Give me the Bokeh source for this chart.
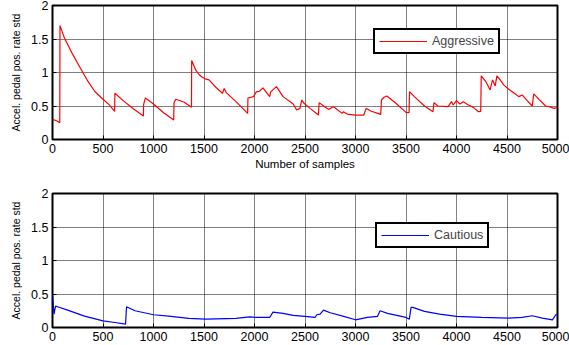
from bokeh.plotting import figure
from bokeh.models import Range1d, Legend, LegendItem, FixedTicker
from bokeh.layouts import column
from bokeh.embed import file_html
from bokeh.resources import INLINE

x_ticks = [0, 500, 1000, 1500, 2000, 2500, 3000, 3500, 4000, 4500, 5000]
y_ticks = [0, 0.5, 1, 1.5, 2]
y_tick_labels = ["0", "0.5", "1", "1.5", "2"]

agg_x = [0, 40, 72, 74, 117, 200, 267, 350, 417, 500, 560, 615, 618, 700, 800, 900, 902, 920,
         1000, 1100, 1200, 1203, 1220, 1300, 1376, 1378, 1417, 1450, 1483, 1520, 1550, 1617,
         1683, 1700, 1720, 1817, 1932, 1935, 1990, 2017, 2050, 2083, 2150, 2160, 2217, 2283,
         2383, 2417, 2450, 2468, 2490, 2550, 2633, 2640, 2700, 2733, 2783, 2867, 2880, 2917,
         3000, 3083, 3105, 3150, 3250, 3257, 3283, 3310, 3400, 3500, 3530, 3535, 3583, 3683,
         3767, 3777, 3817, 3917, 3950, 3967, 4000, 4033, 4067, 4117, 4167, 4217, 4240, 4245,
         4290, 4333, 4357, 4383, 4400, 4433, 4467, 4517, 4583, 4617, 4650, 4700, 4750, 4765,
         4817, 4883, 4917, 4967, 5000]
agg_y = [0.30, 0.28, 0.25, 1.70, 1.52, 1.27, 1.09, 0.87, 0.72, 0.60, 0.52, 0.42, 0.69, 0.58,
         0.46, 0.35, 0.52, 0.62, 0.53, 0.40, 0.29, 0.55, 0.60, 0.56, 0.48, 1.18, 1.04, 0.97,
         0.93, 0.90, 0.89, 0.78, 0.69, 0.76, 0.70, 0.565, 0.39, 0.62, 0.64, 0.71, 0.72, 0.77,
         0.64, 0.71, 0.79, 0.64, 0.53, 0.44, 0.465, 0.59, 0.54, 0.465, 0.365, 0.55, 0.48, 0.45,
         0.49, 0.39, 0.415, 0.38, 0.365, 0.365, 0.465, 0.425, 0.375, 0.59, 0.63, 0.65, 0.54,
         0.405, 0.40, 0.715, 0.64, 0.50, 0.415, 0.55, 0.50, 0.49, 0.565, 0.515, 0.58, 0.53,
         0.565, 0.515, 0.48, 0.415, 0.42, 0.95, 0.865, 0.74, 0.89, 0.80, 0.95, 0.89, 0.815,
         0.75, 0.68, 0.64, 0.665, 0.58, 0.50, 0.68, 0.60, 0.50, 0.49, 0.465, 0.48]

cau_x = [0, 15, 30, 50, 150, 317, 500, 617, 723, 733, 817, 1000, 1150, 1350, 1517, 1817, 1950,
         2017, 2150, 2183, 2283, 2383, 2500, 2600, 2617, 2650, 2683, 2750, 2883, 3000, 3117,
         3217, 3243, 3317, 3500, 3533, 3550, 3567, 3683, 3833, 4000, 4250, 4517, 4650, 4750,
         4850, 4950, 4983, 5000]
cau_y = [0.50, 0.20, 0.32, 0.31, 0.26, 0.17, 0.10, 0.075, 0.05, 0.31, 0.25, 0.19, 0.17, 0.135,
         0.125, 0.135, 0.16, 0.15, 0.15, 0.23, 0.21, 0.18, 0.165, 0.15, 0.19, 0.20, 0.26, 0.22,
         0.165, 0.115, 0.15, 0.165, 0.25, 0.21, 0.15, 0.125, 0.30, 0.30, 0.24, 0.20, 0.165,
         0.15, 0.14, 0.15, 0.175, 0.14, 0.115, 0.19, 0.19]

FONT = "Liberation Sans"


def make_fig(h, top, bottom, xs, ys, color, name, loc, xlabel):
    p = figure(width=569, height=h, output_backend="svg", toolbar_location=None,
               x_range=Range1d(0, 5000), y_range=Range1d(0, 2),
               min_border_left=52, min_border_right=12, min_border_top=top,
               min_border_bottom=bottom)
    p.background_fill_color = "white"
    p.border_fill_color = "white"
    p.outline_line_color = "black"
    p.outline_line_width = 2
    p.outline_line_alpha = 1
    r = p.line(xs, ys, line_color=color, line_width=1.2)
    p.xaxis.ticker = FixedTicker(ticks=x_ticks)
    p.yaxis.ticker = FixedTicker(ticks=y_ticks)
    p.yaxis.major_label_overrides = {t: l for t, l in zip(y_ticks, y_tick_labels)}
    for ax in (p.xaxis[0], p.yaxis[0]):
        ax.major_tick_in = 4
        ax.major_tick_out = 0
        ax.minor_tick_in = 0
        ax.minor_tick_out = 0
        ax.axis_line_color = None
        ax.major_tick_line_color = "black"
        ax.major_label_text_font = FONT
        ax.major_label_text_font_size = "12.5px"
        ax.major_label_text_color = "black"
        ax.major_label_standoff = 4
        ax.axis_label_text_font = FONT
        ax.axis_label_text_font_style = "normal"
        ax.axis_label_text_color = "black"
    p.yaxis.axis_label = "Accel. pedal pos. rate std"
    p.yaxis.axis_label_text_font_size = "10.5px"
    p.yaxis.axis_label_standoff = 6
    if xlabel:
        p.xaxis.axis_label = xlabel
        p.xaxis.axis_label_text_font_size = "11.5px"
        p.xaxis.axis_label_standoff = 2
    p.grid.grid_line_color = "black"
    p.grid.grid_line_alpha = 1
    p.grid.grid_line_dash = "1 1"
    p.grid.grid_line_width = 1
    leg = Legend(items=[LegendItem(label=name, renderers=[r])], location=loc,
                 orientation="vertical")
    leg.border_line_color = "black"
    leg.border_line_width = 2
    leg.border_line_alpha = 1
    leg.background_fill_color = "white"
    leg.background_fill_alpha = 1
    leg.padding = 4
    leg.margin = 0
    leg.glyph_width = 48
    leg.glyph_height = 12
    leg.label_standoff = 5
    leg.label_text_font = FONT
    leg.label_text_font_size = "12.5px"
    leg.label_height = 12
    leg.spacing = 0
    p.add_layout(leg, "center")
    return p


p1 = make_fig(175, 5, 36, agg_x, agg_y, "red", "Aggressive", (321, 85), "Number of samples")
p2 = make_fig(170, 18, 18, cau_x, cau_y, "blue", "Cautious", (323, 79), None)

layout = column(p1, p2, spacing=0)
open("out.html", "w").write(file_html(layout, INLINE))
